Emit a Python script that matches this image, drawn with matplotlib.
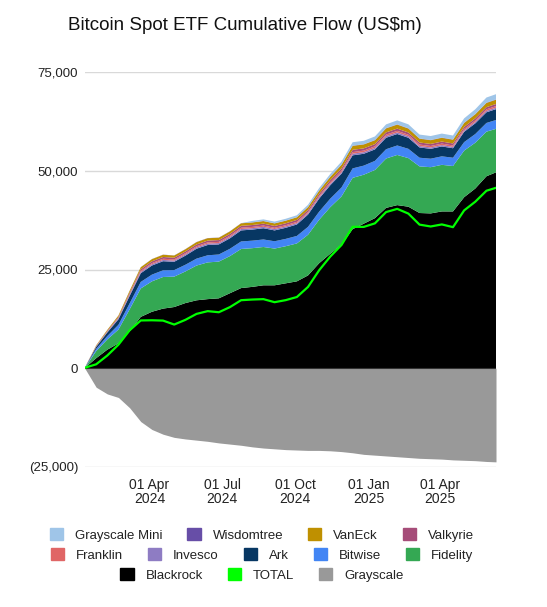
import matplotlib
matplotlib.use("Agg")
import matplotlib.pyplot as plt
import matplotlib.patches as mpatches
import numpy as np
import pandas as pd

plt.rcParams['font.family'] = ['Liberation Sans', 'DejaVu Sans']

# --- DATA (US$m, cumulative) ---
dates = pd.to_datetime([
    '2024-01-11', '2024-01-25', '2024-02-08', '2024-02-22', '2024-03-07', '2024-03-21',
    '2024-04-04', '2024-04-18', '2024-05-02', '2024-05-16', '2024-05-30', '2024-06-13',
    '2024-06-27', '2024-07-11', '2024-07-25', '2024-08-08', '2024-08-22', '2024-09-05',
    '2024-09-19', '2024-10-03', '2024-10-17', '2024-10-31', '2024-11-14', '2024-11-28',
    '2024-12-12', '2024-12-26', '2025-01-09', '2025-01-23', '2025-02-06', '2025-02-20',
    '2025-03-06', '2025-03-20', '2025-04-03', '2025-04-17', '2025-05-01', '2025-05-15',
    '2025-05-29', '2025-06-10'])

blackrock = [110, 2540, 4700, 6300, 9300, 13000, 14300, 15100, 15500, 16500, 17200, 17500,
             17700, 19000, 20300, 20600, 21000, 21000, 21500, 22000, 23500, 26600, 29000, 31300,
             35200, 36600, 38000, 40600, 41300, 40900, 39300, 39200, 39700, 39700, 43300, 45500,
             48600, 49600]
fidelity = [30, 1800, 2600, 3500, 5600, 7200, 7700, 8000, 7700, 8000, 8800, 9300,
            9300, 9400, 9900, 9800, 9700, 9300, 9400, 9600, 10300, 11000, 11800, 12200,
            13000, 12400, 12200, 12500, 12700, 12300, 11800, 11700, 11800, 11500, 11800, 11600,
            11300, 11000]
bitwise = [30, 550, 850, 1200, 1500, 1650, 1700, 1700, 1650, 1700, 1750, 1800,
           1800, 1850, 1900, 1900, 1900, 1850, 1850, 1900, 2000, 2050, 2150, 2250,
           2400, 2300, 2300, 2350, 2400, 2350, 2200, 2150, 2150, 2100, 2150, 2200,
           2200, 2250]
ark = [20, 500, 900, 1400, 1900, 2200, 2300, 2300, 2100, 2300, 2500, 2600,
       2550, 2650, 2800, 2800, 2850, 2750, 2800, 2900, 3100, 3300, 3400, 3500,
       3300, 3000, 2900, 2900, 2900, 2800, 2600, 2500, 2500, 2400, 2600, 2700,
       2700, 2750]
invesco = [10, 100, 180, 230, 280, 320, 330, 330, 320, 330, 340, 350,
           340, 350, 360, 360, 360, 350, 350, 350, 360, 380, 390, 400,
           420, 410, 400, 400, 400, 390, 360, 350, 350, 340, 350, 350,
           360, 360]
franklin = [10, 50, 80, 120, 200, 260, 280, 290, 280, 290, 300, 310,
            300, 310, 320, 320, 320, 310, 320, 320, 330, 340, 360, 380,
            400, 390, 390, 400, 400, 390, 370, 370, 370, 360, 380, 390,
            400, 400]
valkyrie = [10, 100, 150, 250, 350, 420, 450, 450, 440, 440, 450, 460,
            460, 470, 480, 480, 480, 470, 480, 480, 500, 520, 540, 560,
            580, 570, 560, 570, 570, 560, 530, 520, 520, 510, 520, 530,
            540, 540]
vaneck = [10, 150, 250, 350, 450, 520, 550, 560, 540, 550, 580, 600,
          590, 610, 630, 640, 640, 630, 650, 660, 700, 760, 820, 900,
          1000, 980, 970, 1000, 1010, 990, 950, 940, 950, 940, 990, 1020,
          1060, 1080]
wisdomtree = [5, 10, 15, 20, 25, 30, 35, 35, 35, 40, 40, 40,
              40, 40, 40, 45, 45, 45, 45, 45, 50, 50, 55, 60,
              65, 65, 65, 70, 70, 70, 70, 70, 70, 70, 75, 75,
              80, 80]
grayscale_mini = [0, 0, 0, 0, 0, 0, 0, 0, 0, 0, 0, 0,
                  0, 0, 0, 350, 400, 420, 450, 480, 550, 620, 680, 750,
                  850, 870, 900, 950, 1000, 1000, 980, 990, 1000, 1000, 1100, 1200,
                  1300, 1320]
grayscale = [-100, -4800, -6500, -7400, -10000, -13500, -15500, -16700, -17500, -17900, -18200, -18500,
             -18900, -19200, -19500, -19900, -20200, -20400, -20600, -20700, -20800, -20800, -20900, -21100,
             -21400, -21800, -22000, -22200, -22400, -22600, -22800, -22900, -23000, -23200, -23300, -23400,
             -23600, -23700]

# stacking order, bottom to top
stack_names = ['Blackrock', 'Fidelity', 'Bitwise', 'Ark', 'Invesco', 'Franklin',
               'Valkyrie', 'VanEck', 'Wisdomtree', 'Grayscale Mini']
stack_vals = [blackrock, fidelity, bitwise, ark, invesco, franklin,
              valkyrie, vaneck, wisdomtree, grayscale_mini]

COLORS = {
    'Grayscale Mini': '#9fc5e8',
    'Wisdomtree': '#674ea7',
    'VanEck': '#bf9000',
    'Valkyrie': '#a64d79',
    'Franklin': '#e06666',
    'Invesco': '#8e7cc3',
    'Ark': '#073763',
    'Bitwise': '#4285f4',
    'Fidelity': '#34a853',
    'Blackrock': '#000000',
    'TOTAL': '#00ff00',
    'Grayscale': '#999999',
}

total = np.sum(np.array(stack_vals), axis=0) + np.array(grayscale)

# --- PLOT ---
fig = plt.figure(figsize=(5.47, 6.07), dpi=100)
ax = fig.add_axes([85 / 547, 1 - 467 / 607, 411 / 547, 395 / 607])

ax.set_ylim(-25000, 75000)
ax.set_xlim(dates[0], dates[-1])

# grid first
for v in [-25000, 25000, 50000, 75000]:
    ax.axhline(v, color='#d9d9d9', lw=1.0, zorder=0)

ax.stackplot(dates, *stack_vals, colors=[COLORS[n] for n in stack_names],
             linewidth=0, zorder=2)
ax.fill_between(dates, 0, grayscale, color=COLORS['Grayscale'], linewidth=0, zorder=2)
ax.axhline(0, color='#333333', lw=0.8, zorder=3)
ax.plot(dates, total, color=COLORS['TOTAL'], lw=1.6, zorder=4)

for s in ax.spines.values():
    s.set_visible(False)

ax.set_yticks([-25000, 0, 25000, 50000, 75000])
ax.set_yticklabels(['(25,000)', '0', '25,000', '50,000', '75,000'])
xt = pd.to_datetime(['2024-04-01', '2024-07-01', '2024-10-01', '2025-01-01', '2025-04-01'])
ax.set_xticks(xt)
ax.set_xticklabels([d.strftime('%d %b\n%Y') for d in xt])
ax.tick_params(axis='y', length=0, labelsize=9.5, colors='#222222', pad=5)
ax.tick_params(axis='x', length=0, labelsize=10, colors='#222222', pad=8)
for lbl in ax.get_xticklabels():
    lbl.set_linespacing(0.95)

fig.text(68 / 547, 1 - 26 / 607, 'Bitcoin Spot ETF Cumulative Flow (US$m)',
         fontsize=13.5, ha='left', va='center', color='#111111')

# legend in three centred rows
rows = [['Grayscale Mini', 'Wisdomtree', 'VanEck', 'Valkyrie'],
        ['Franklin', 'Invesco', 'Ark', 'Bitwise', 'Fidelity'],
        ['Blackrock', 'TOTAL', 'Grayscale']]
row_y = [535, 555, 575]
for names, yy in zip(rows, row_y):
    handles = [mpatches.Patch(color=COLORS[n], label=n) for n in names]
    leg = fig.legend(handles=handles, loc='center', bbox_to_anchor=(262 / 547, 1 - yy / 607),
                     ncol=len(names), frameon=False, fontsize=9.5, handlelength=1.0,
                     handleheight=1.0, handletextpad=0.9, columnspacing=1.9, borderpad=0)
    for t in leg.get_texts():
        t.set_color('#222222')

fig.savefig('out.png', dpi=100)
